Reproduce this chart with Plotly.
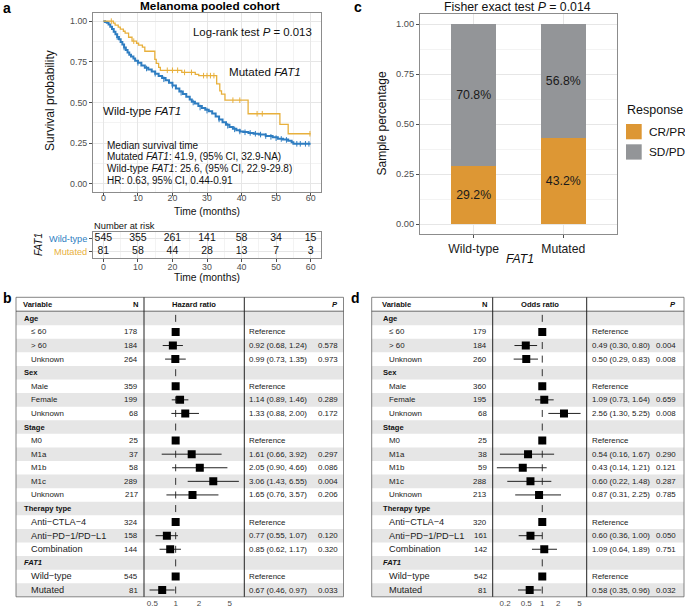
import math
import plotly.graph_objects as go

W, H = 685, 608
FONT = "Liberation Sans, Arial, sans-serif"
BLUE = "#2E7DC1"
ORANGE = "#E8B03C"
BAR_OR = "#DD9734"
BAR_GR = "#939598"
GRID = "#E6E6E6"
GRID_MINOR = "#F3F3F3"
BORDER = "#8C8C8C"
TICKC = "#4D4D4D"

# ---------------- panel a : Kaplan-Meier ----------------
wt_time = [0, 0.5, 1.0, 1.5, 2.0, 2.5, 3.0, 3.5, 4.0, 4.5, 5.0, 5.5, 6.0, 6.5, 7.0, 7.5, 8.0,
           8.7, 9.2, 10.0, 11.0, 12.0, 13.0, 14.0, 15.0, 16.0, 17.0, 18.0, 19.0, 20.0, 21.0,
           22.0, 23.0, 24.0, 25.0, 25.6, 26.5, 27.5, 28.5, 29.5, 30.5, 31.5, 32.5, 33.5, 34.5,
           35.5, 36.5, 37.5, 38.5, 39.5, 40.5, 42.0, 43.5, 45.0, 47.0, 49.0, 50.5, 52.0, 53.5,
           54.5, 55.0, 60.0]
wt_surv = [1.000, 0.995, 0.990, 0.980, 0.966, 0.952, 0.935, 0.919, 0.903, 0.888, 0.872, 0.856,
           0.838, 0.823, 0.808, 0.794, 0.783, 0.770, 0.756, 0.744, 0.728, 0.714, 0.703, 0.690,
           0.677, 0.663, 0.650, 0.636, 0.621, 0.604, 0.586, 0.568, 0.553, 0.535, 0.518, 0.505,
           0.494, 0.478, 0.466, 0.455, 0.446, 0.432, 0.414, 0.396, 0.378, 0.364, 0.350, 0.338,
           0.329, 0.322, 0.318, 0.313, 0.308, 0.303, 0.294, 0.286, 0.278, 0.273, 0.265, 0.256,
           0.246, 0.246]
mut_time = [0, 2.9, 3.4, 4.3, 4.9, 5.8, 6.3, 7.3, 8.3, 9.6, 10.2, 11.3, 12.0, 14.9, 15.3,
            16.0, 16.5, 22.7, 26.6, 27.6, 32.8, 33.7, 34.2, 35.2, 41.9, 51.1, 53.5, 60.0]
mut_surv = [1.0, 0.988, 0.975, 0.963, 0.951, 0.938, 0.926, 0.901, 0.877, 0.864, 0.852, 0.840,
            0.815, 0.765, 0.741, 0.716, 0.698, 0.685, 0.673, 0.665, 0.614, 0.572, 0.552, 0.514,
            0.431, 0.366, 0.308, 0.308]
wt_cens_time = [4, 6, 10, 12.5, 15, 17.5, 20, 22.5, 26, 28, 30, 33.5, 36, 38, 39.5, 41, 42.5,
                44, 45.5, 47, 48.5, 50, 51.5, 53, 56, 57, 58.5, 59.5]
wt_cens_surv = [0.903, 0.838, 0.744, 0.709, 0.677, 0.643, 0.604, 0.560, 0.500, 0.469, 0.450,
                0.396, 0.357, 0.335, 0.322, 0.317, 0.313, 0.308, 0.303, 0.294, 0.289, 0.281,
                0.276, 0.270, 0.246, 0.246, 0.246, 0.246]
mut_cens_time = [2.3, 8.8, 18.5, 20.0, 21.5, 23.5, 25.5, 29.0, 30.0, 31.0, 32.0, 37.5, 39.5,
                 44.5, 46.0, 59.8]
mut_cens_surv = [1.0, 0.877, 0.698, 0.698, 0.698, 0.685, 0.685, 0.665, 0.665, 0.665, 0.665,
                 0.514, 0.514, 0.431, 0.431, 0.308]
risk_times = [0, 10, 20, 30, 40, 50, 60]
risk_wt = [545, 355, 261, 141, 58, 34, 15]
risk_mut = [81, 58, 44, 28, 13, 7, 3]

# ---------------- panel c : response ----------------
resp_groups = ["Wild-type", "Mutated"]
resp_crpr = [0.292, 0.432]
resp_sdpd = [0.708, 0.568]

# ---------------- panels b / d : forest tables ----------------
row_labels = ["Age", "≤ 60", "> 60", "Unknown", "Sex", "Male", "Female", "Unknown", "Stage",
              "M0", "M1a", "M1b", "M1c", "Unknown", "Therapy type", "Anti−CTLA−4",
              "Anti−PD−1/PD−L1", "Combination", "<i>FAT1</i>", "Wild−type", "Mutated"]
row_is_group = [True, False, False, False, True, False, False, False, True, False, False,
                False, False, False, True, False, False, False, True, False, False]
row_big = [False] * 15 + [True, True, True, False, True, True]

hr_n = [None, 178, 184, 264, None, 359, 199, 68, None, 25, 37, 58, 289, 217, None, 324, 158,
        144, None, 545, 81]
hr_est = [None, 1, 0.92, 0.99, None, 1, 1.14, 1.33, None, 1, 1.61, 2.05, 3.06, 1.65, None, 1,
          0.77, 0.85, None, 1, 0.67]
hr_lo = [None, None, 0.68, 0.73, None, None, 0.89, 0.88, None, None, 0.66, 0.90, 1.43, 0.76,
         None, None, 0.55, 0.62, None, None, 0.46]
hr_hi = [None, None, 1.24, 1.35, None, None, 1.46, 2.00, None, None, 3.92, 4.66, 6.55, 3.57,
         None, None, 1.07, 1.17, None, None, 0.97]
hr_p = [None, None, 0.578, 0.973, None, None, 0.289, 0.172, None, None, 0.297, 0.086, 0.004,
        0.206, None, None, 0.120, 0.320, None, None, 0.033]

or_n = [None, 179, 184, 260, None, 360, 195, 68, None, 25, 38, 59, 288, 213, None, 320, 161,
        142, None, 542, 81]
or_est = [None, 1, 0.49, 0.50, None, 1, 1.09, 2.56, None, 1, 0.54, 0.43, 0.60, 0.87, None, 1,
          0.60, 1.09, None, 1, 0.58]
or_lo = [None, None, 0.30, 0.29, None, None, 0.73, 1.30, None, None, 0.16, 0.14, 0.22, 0.31,
         None, None, 0.36, 0.64, None, None, 0.35]
or_hi = [None, None, 0.80, 0.83, None, None, 1.64, 5.25, None, None, 1.67, 1.21, 1.48, 2.25,
         None, None, 1.00, 1.89, None, None, 0.96]
or_p = [None, None, 0.004, 0.008, None, None, 0.659, 0.008, None, None, 0.290, 0.121, 0.287,
        0.785, None, None, 0.050, 0.751, None, None, 0.032]

annos = []
shapes = []


def px(x):
    return x / W


def py(y):
    return 1 - y / H


def txt(text, x, y, size=8, anchor="center", color="#111", yref="paper", angle=0):
    annos.append(dict(text=text, x=px(x), y=py(y) if yref == "paper" else y, xref="paper",
                      yref=yref, xanchor=anchor, yanchor="middle", showarrow=False,
                      textangle=angle, borderpad=0,
                      font=dict(size=size, color=color, family=FONT)))


fig = go.Figure()

# ---- KM curves ----
fig.add_trace(go.Scatter(x=wt_time, y=wt_surv, mode="lines",
                         line=dict(color=BLUE, width=2, shape="hv"), xaxis="x", yaxis="y"))
fig.add_trace(go.Scatter(x=mut_time, y=mut_surv, mode="lines",
                         line=dict(color=ORANGE, width=1.3, shape="hv"), xaxis="x", yaxis="y"))
fig.add_trace(go.Scatter(x=wt_cens_time, y=wt_cens_surv, mode="markers",
                         marker=dict(symbol="line-ns-open", size=4, color=BLUE,
                                     line=dict(color=BLUE, width=1)),
                         xaxis="x", yaxis="y"))
fig.add_trace(go.Scatter(x=mut_cens_time, y=mut_cens_surv, mode="markers",
                         marker=dict(symbol="line-ns-open", size=4, color=ORANGE,
                                     line=dict(color=ORANGE, width=1)),
                         xaxis="x", yaxis="y"))

# ---- risk table ----
fig.add_trace(go.Scatter(x=risk_times, y=[1.5] * len(risk_times), mode="text",
                         text=[str(v) for v in risk_wt], textfont=dict(size=10.5, color="#111"),
                         xaxis="x2", yaxis="y2", cliponaxis=False))
fig.add_trace(go.Scatter(x=risk_times, y=[0.5] * len(risk_times), mode="text",
                         text=[str(v) for v in risk_mut], textfont=dict(size=10.5, color="#111"),
                         xaxis="x2", yaxis="y2", cliponaxis=False))

# ---- stacked bars ----
fig.add_trace(go.Bar(x=resp_groups, y=resp_crpr, width=0.5, marker=dict(color=BAR_OR, line=dict(width=0)),
                     text=[f"{v * 100:.1f}%" for v in resp_crpr], textposition="inside",
                     insidetextanchor="middle", textangle=0, constraintext="none",
                     textfont=dict(size=12.3, color="#1a1a1a"), xaxis="x3", yaxis="y3"))
fig.add_trace(go.Bar(x=resp_groups, y=resp_sdpd, width=0.5, marker=dict(color=BAR_GR, line=dict(width=0)),
                     text=[f"{v * 100:.1f}%" for v in resp_sdpd], textposition="inside",
                     insidetextanchor="middle", textangle=0, constraintext="none",
                     textfont=dict(size=12.3, color="#1a1a1a"), xaxis="x3", yaxis="y3"))


# ---- forest tables ----
def forest(axn, n_vals, est, lo, hi, pvals, c, title):
    xa, ya = "x%d" % axn, "y%d" % axn
    nrow = len(row_labels)
    for i in range(0, nrow, 2):
        shapes.append(dict(type="rect", xref="paper", yref=ya, x0=px(c["left"]), x1=px(c["right"]),
                           y0=i - 0.5, y1=i + 0.5, fillcolor="#E6E6E6", line=dict(width=0),
                           layer="below"))
    fig.add_trace(go.Scatter(x=[1, 1], y=[-0.257, nrow - 0.5], mode="lines",
                             line=dict(color="#333", width=1, dash="7px,6.585px"),
                             xaxis=xa, yaxis=ya))
    cx, cy = [], []
    for i, (l, h) in enumerate(zip(lo, hi)):
        if l is not None:
            cx += [l, h, None]
            cy += [i, i, None]
    fig.add_trace(go.Scatter(x=cx, y=cy, mode="lines", line=dict(color="#222", width=1),
                             xaxis=xa, yaxis=ya))
    sx = [e for e in est if e is not None]
    sy = [i for i, e in enumerate(est) if e is not None]
    fig.add_trace(go.Scatter(x=sx, y=sy, mode="markers",
                             marker=dict(symbol="square", size=8, color="black"),
                             xaxis=xa, yaxis=ya))
    # header
    hy = -1.05
    txt("<b>Variable</b>", c["group"] - 1, hy, 7.6, "left", yref=ya)
    txt("<b>N</b>", c["n"], hy, 7.6, "right", yref=ya)
    txt("<b>%s</b>" % title, (c["s1"] + c["s2"]) / 2, hy, 7.6, "center", yref=ya)
    txt("<b><i>P</i></b>", c["p"], hy, 7.6, "right", yref=ya)
    for i, lab in enumerate(row_labels):
        if row_is_group[i]:
            txt("<b>%s</b>" % lab, c["group"], i, 7.6, "left", yref=ya)
            continue
        txt(lab, c["item"], i, 9.2 if row_big[i] else 7.9, "left", color="#222", yref=ya)
        txt(str(n_vals[i]), c["n"], i, 7.9, "right", color="#222", yref=ya)
        if lo[i] is None:
            txt("Reference", c["est"], i, 7.9, "left", color="#222", yref=ya)
        else:
            txt("%.2f (%.2f, %.2f)" % (est[i], lo[i], hi[i]), c["est"], i, 7.9, "left",
                color="#222", yref=ya)
            txt("%.3f" % pvals[i], c["p"], i, 7.9, "right", color="#222", yref=ya)
    top, bot = 297.3, 596.8
    shapes.append(dict(type="rect", xref="paper", yref="paper", x0=px(c["left"]), x1=px(c["right"]),
                       y0=py(bot), y1=py(top), line=dict(color="#666", width=0.8), layer="above"))
    shapes.append(dict(type="line", xref="paper", yref="paper", x0=px(c["left"]), x1=px(c["right"]),
                       y0=py(311.2), y1=py(311.2), line=dict(color="#444", width=0.8), layer="above"))
    for s in (c["s1"], c["s2"]):
        shapes.append(dict(type="line", xref="paper", yref="paper", x0=px(s), x1=px(s),
                           y0=py(bot), y1=py(top), line=dict(color="#222", width=1), layer="above"))


cols_b = dict(left=16, right=343.5, group=22.5, item=29.5, n=138.5, s1=144, s2=244.3, est=248.3, p=339)
cols_d = dict(left=371.7, right=684, group=382, item=388, n=488, s1=492.7, s2=586.7, est=590.7, p=677)
forest(4, hr_n, hr_est, hr_lo, hr_hi, hr_p, cols_b, "Hazard ratio")
forest(5, or_n, or_est, or_lo, or_hi, or_p, cols_d, "Odds ratio")

# ---- texts for panel a ----
txt("<b>a</b>", 7, 8, 14, color="#000")
txt("<b>Melanoma pooled cohort</b>", 210, 6, 11.8, color="#000")
txt("Log-rank test <i>P</i> = 0.013", 313, 31.5, 11.4, "right")
txt("Mutated <i>FAT1</i>", 265, 71, 11.6)
txt("Wild-type <i>FAT1</i>", 142, 110.5, 11.6)
txt("Median survival time", 106, 145, 10, "left")
txt("Mutated <i>FAT1</i>: 41.9, (95% CI, 32.9-NA)", 106, 156.7, 10, "left")
txt("Wild-type <i>FAT1</i>: 25.6, (95% CI, 22.9-29.8)", 106, 168.3, 10, "left")
txt("HR: 0.63, 95% CI, 0.44-0.91", 106, 180.5, 10, "left")
txt("Survival probability", 50, 100, 12, angle=-90)
txt("Time (months)", 207, 211, 10.3)
txt("Number at risk", 92.5, 226.5, 9.3, "left")
txt("Wild-type", 87.5, 238.5, 9.2, "right", color=BLUE)
txt("Mutated", 87.5, 251.5, 9.2, "right", color=ORANGE)
txt("<i>FAT1</i>", 38, 245, 10, angle=-90)
txt("Time (months)", 207, 277.5, 10.3)

# ---- texts for panel c ----
txt("<b>c</b>", 358, 7, 14, color="#000")
txt("Fisher exact test <i>P</i> = 0.014", 517, 7, 12.3)
txt("Sample percentage", 381.5, 124, 12, angle=-90)
txt("<i>FAT1</i>", 520, 259.3, 12.2)
txt("Response", 626, 110, 12.5, "left")
for k, (lab, col) in enumerate([("CR/PR", BAR_OR), ("SD/PD", BAR_GR)]):
    y0 = 124 + k * 20.3
    shapes.append(dict(type="rect", xref="paper", yref="paper", x0=px(626), x1=px(641.7),
                       y0=py(y0 + 15.3), y1=py(y0), fillcolor=col, line=dict(width=0)))
    txt(lab, 648, y0 + 7.8, 11.8, "left")

# ---- panel labels b / d ----
txt("<b>b</b>", 8, 298, 14, color="#000")
txt("<b>d</b>", 355, 298, 14, color="#000")

common = dict(showline=True, mirror=True, linecolor=BORDER, linewidth=1, zeroline=False,
              ticks="outside", ticklen=3, tickcolor=TICKC, tickwidth=1,
              tickfont=dict(size=8.8, color=TICKC, family=FONT), showgrid=True,
              gridcolor=GRID, gridwidth=1)
time_axis = dict(common, range=[-3, 63], tickmode="linear", tick0=0, dtick=10,
                 minor=dict(tick0=0, dtick=5, showgrid=True, gridcolor=GRID_MINOR, gridwidth=0.6))
prob_axis = dict(common, range=[-0.05, 1.05], tickmode="linear", tick0=0, dtick=0.25,
                 tickformat=".2f",
                 minor=dict(tick0=0, dtick=0.125, showgrid=True, gridcolor=GRID_MINOR, gridwidth=0.6))
forest_y = dict(domain=[py(596.8), py(297.3)], range=[len(row_labels) - 0.5, -1.55], visible=False)

fig.update_layout(
    width=W, height=H, margin=dict(l=0, r=0, t=0, b=0),
    paper_bgcolor="white", plot_bgcolor="rgba(0,0,0,0)", showlegend=False,
    font=dict(family=FONT, color="#111"), barmode="stack", hovermode=False,
    xaxis=dict(time_axis, domain=[px(93), px(321)], anchor="y", ticklabelstandoff=-6),
    yaxis=dict(prob_axis, domain=[py(192), py(13)], anchor="x"),
    xaxis2=dict(time_axis, domain=[px(93), px(321)], anchor="y2", ticklabelstandoff=-2),
    yaxis2=dict(common, domain=[py(257.7), py(231.7)], anchor="x2", range=[0, 2],
                tickvals=[0.5, 1.5], showticklabels=False),
    xaxis3=dict(common, domain=[px(420), px(617)], anchor="y3", type="category",
                range=[-0.6, 1.6], tickfont=dict(size=12.2, color="#1a1a1a", family=FONT)),
    yaxis3=dict(prob_axis, domain=[py(234), py(14)], anchor="x3",
                tickfont=dict(size=9.3, color=TICKC, family=FONT)),
    xaxis4=dict(domain=[px(144), px(244.3)], anchor="y4", type="log",
                range=[math.log10(0.39), math.log10(7.7)], tickvals=[0.5, 1, 2, 5],
                ticktext=["0.5", "1", "2", "5"], showgrid=False, zeroline=False, showline=False,
                ticks="", tickfont=dict(size=8, color=TICKC, family=FONT)),
    yaxis4=dict(forest_y, anchor="x4"),
    xaxis5=dict(domain=[px(492.7), px(586.7)], anchor="y5", type="log",
                range=[math.log10(0.117), math.log10(6.84)], tickvals=[0.2, 0.5, 1, 2, 5],
                ticktext=["0.2", "0.5", "1", "2", "5"], showgrid=False, zeroline=False,
                showline=False, ticks="", tickfont=dict(size=8, color=TICKC, family=FONT)),
    yaxis5=dict(forest_y, anchor="x5"),
    annotations=annos, shapes=shapes,
)

# remove the default page margin so the figure sits at the window's top-left corner
fig.write_html("out.html", config={"displayModeBar": False},
               post_script="document.body.style.margin='0';"
                           "document.body.style.overflow='hidden';")
